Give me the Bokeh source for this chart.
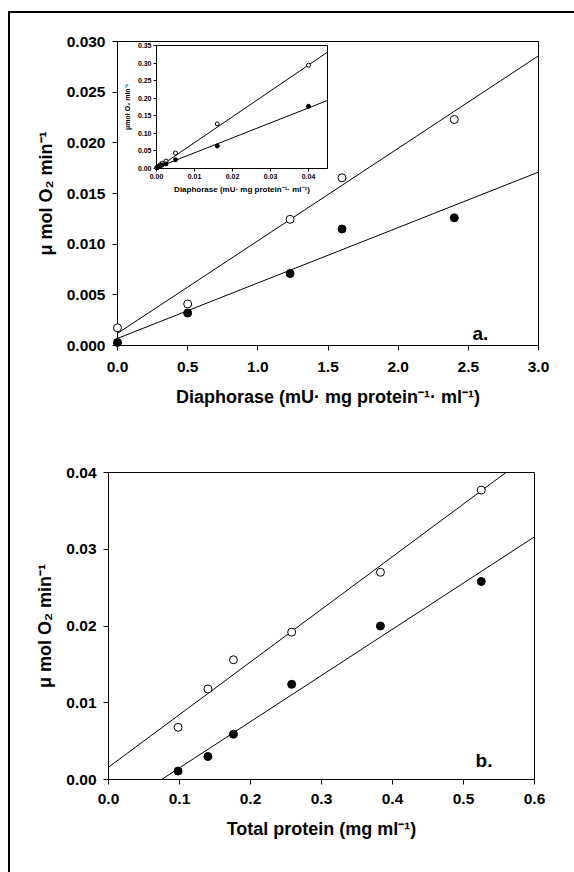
from bokeh.plotting import figure
from bokeh.layouts import column
from bokeh.models import Range1d, FixedTicker, NumeralTickFormatter, Label
from bokeh.embed import file_html
from bokeh.resources import INLINE

# ---------------- data ----------------
# panel a: main plot
a_diaphorase = [0.0, 0.5, 1.23, 1.6, 2.4]
a_open = [0.00175, 0.0041, 0.01245, 0.01655, 0.0223]
a_filled = [0.0003, 0.0032, 0.0071, 0.0115, 0.0126]
a_fit_open = [0.0012, 0.00913]      # intercept, slope
a_fit_filled = [0.0007, 0.00547]

# panel a: inset
inset_x_open = [0.0, 0.0005, 0.001, 0.0015, 0.0025, 0.005, 0.016, 0.04]
inset_open = [0.002, 0.006, 0.011, 0.015, 0.021, 0.044, 0.127, 0.294]
inset_x_filled = [0.0003, 0.001, 0.0015, 0.0025, 0.005, 0.016, 0.04]
inset_filled = [0.003, 0.007, 0.010, 0.013, 0.025, 0.064, 0.177]
inset_fit_open = [0.0, 7.36]
inset_fit_filled = [0.002, 4.26]

# panel b
b_protein = [0.098, 0.140, 0.176, 0.258, 0.383, 0.525]
b_open = [0.0068, 0.0118, 0.0156, 0.0192, 0.0270, 0.0377]
b_filled = [0.0011, 0.0030, 0.0059, 0.0124, 0.0200, 0.0258]
b_fit_open = [0.0016, 0.0686]
b_fit_filled = [-0.0045, 0.0602]

# tick values
a_xticks = [0.0, 0.5, 1.0, 1.5, 2.0, 2.5, 3.0]
a_yticks = [0.0, 0.005, 0.010, 0.015, 0.020, 0.025, 0.030]
inset_xticks = [0.0, 0.01, 0.02, 0.03, 0.04]
inset_yticks = [0.0, 0.05, 0.10, 0.15, 0.20, 0.25, 0.30, 0.35]
b_xticks = [0.0, 0.1, 0.2, 0.3, 0.4, 0.5, 0.6]
b_yticks = [0.0, 0.01, 0.02, 0.03, 0.04]

FONT = "Liberation Sans"


def style(p, tick_size, title_size, tick_len, xfmt, yfmt, xticks, yticks,
          x_label_standoff, y_label_standoff, x_title_standoff, y_title_standoff):
    p.frame_align = False
    p.grid.visible = False
    p.outline_line_color = "black"
    p.outline_line_width = 1
    p.background_fill_color = "white"
    p.border_fill_color = "white"
    p.xaxis.ticker = FixedTicker(ticks=xticks)
    p.yaxis.ticker = FixedTicker(ticks=yticks)
    p.xaxis.formatter = NumeralTickFormatter(format=xfmt)
    p.yaxis.formatter = NumeralTickFormatter(format=yfmt)
    for ax in p.axis:
        ax.axis_line_color = "black"
        ax.axis_line_width = 1
        ax.major_tick_line_color = "black"
        ax.minor_tick_line_color = None
        ax.major_tick_out = tick_len
        ax.major_tick_in = 0
        ax.major_label_text_font = FONT
        ax.major_label_text_font_style = "bold"
        ax.major_label_text_font_size = tick_size
        ax.major_label_text_color = "black"
        ax.axis_label_text_font = FONT
        ax.axis_label_text_font_style = "bold"
        ax.axis_label_text_font_size = title_size
        ax.axis_label_text_color = "black"
    p.xaxis.major_label_standoff = x_label_standoff
    p.yaxis.major_label_standoff = y_label_standoff
    p.xaxis.axis_label_standoff = x_title_standoff
    p.yaxis.axis_label_standoff = y_title_standoff


def fit_line(p, fit, xr):
    xs = [xr.start, xr.end]
    ys = [fit[0] + fit[1] * x for x in xs]
    p.line(xs, ys, line_color="black", line_width=1)


def points(p, x, y, fill, size):
    p.scatter(x, y, marker="circle", size=size, fill_color=fill,
              line_color="black", line_width=1, level="overlay")


# ---------------- panel a ----------------
a_xr = Range1d(0, 3.0)
a_yr = Range1d(0, 0.030)
p_top = figure(width=564, height=407, x_range=a_xr, y_range=a_yr,
               output_backend="svg", toolbar_location=None,
               min_border_left=107, min_border_right=36,
               min_border_top=28, min_border_bottom=75)
style(p_top, "15.5px", "18px", 5, "0.0", "0.000", a_xticks, a_yticks, 11, 7, 12, 8)
p_top.xaxis.axis_label = "Diaphorase (mU\u00b7 mg protein\u207b\u00b9\u00b7 ml\u207b\u00b9)"
p_top.yaxis.axis_label = "\u03bc mol O\u2082 min\u207b\u00b9"
fit_line(p_top, a_fit_open, a_xr)
fit_line(p_top, a_fit_filled, a_xr)
points(p_top, a_diaphorase, a_open, "white", 8)
points(p_top, a_diaphorase, a_filled, "black", 8)
p_top.add_layout(Label(x=2.53, y=0.0012, text="a.", text_font=FONT,
                       text_font_style="bold", text_font_size="19px",
                       text_baseline="alphabetic", text_color="black"))

# ---------------- inset ----------------
i_xr = Range1d(0, 0.045)
i_yr = Range1d(0, 0.35)
inset = figure(frame_width=171, frame_height=123, x_range=i_xr, y_range=i_yr,
               output_backend="svg", toolbar_location=None,
               min_border_left=35, min_border_right=9,
               min_border_top=10, min_border_bottom=32)
style(inset, "7px", "8px", 3, "0.00", "0.00", inset_xticks, inset_yticks, 2, 2, 3, 4)
inset.border_fill_color = None
inset.background_fill_color = "white"
inset.yaxis.axis_label_text_font_size = "7px"
inset.xaxis.axis_label = "Diaphorase (mU\u00b7 mg protein\u207b\u00b9\u00b7 ml\u207b\u00b9)"
inset.yaxis.axis_label = "\u03bcmol O\u2082 min\u207b\u00b9"
fit_line(inset, inset_fit_open, i_xr)
fit_line(inset, inset_fit_filled, i_xr)
points(inset, inset_x_open, inset_open, "white", 4)
points(inset, inset_x_filled, inset_filled, "black", 4)
inset.styles = {"position": "absolute", "left": "110px", "top": "22px",
                "background": "transparent"}

# ---------------- panel b ----------------
b_xr = Range1d(0, 0.6)
b_yr = Range1d(0, 0.04)
p_bot = figure(width=564, height=452, x_range=b_xr, y_range=b_yr,
               output_backend="svg", toolbar_location=None,
               min_border_left=98, min_border_right=40,
               min_border_top=52, min_border_bottom=93)
style(p_bot, "15.5px", "18px", 5, "0.0", "0.00", b_xticks, b_yticks, 9, 7, 12, 8)
p_bot.xaxis.axis_label = "Total protein (mg ml\u207b\u00b9)"
p_bot.yaxis.axis_label = "\u03bc mol O\u2082 min\u207b\u00b9"
fit_line(p_bot, b_fit_open, b_xr)
fit_line(p_bot, b_fit_filled, b_xr)
points(p_bot, b_protein, b_open, "white", 8)
points(p_bot, b_protein, b_filled, "black", 8)
p_bot.add_layout(Label(x=0.517, y=0.0025, text="b.", text_font=FONT,
                       text_font_style="bold", text_font_size="19px",
                       text_baseline="alphabetic", text_color="black"))

root = column(p_top, p_bot, inset, spacing=0,
              styles={"position": "absolute", "left": "8px", "top": "11px",
                      "border-left": "2px solid #000", "border-top": "2px solid #000"})

open("out.html", "w").write(file_html(root, INLINE))
